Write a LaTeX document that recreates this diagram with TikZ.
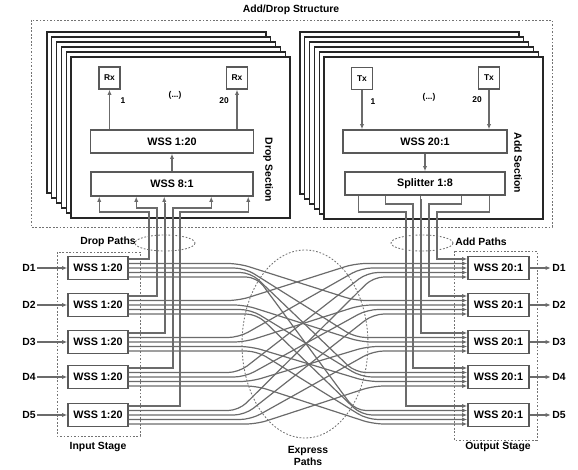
\documentclass[tikz,border=0pt]{standalone}
\usepackage{fontspec}
\setmainfont{Liberation Sans}
\usetikzlibrary{arrows.meta,calc}
\begin{document}
\begin{tikzpicture}[x=0.75pt,y=-0.75pt,
  every node/.style={font=\bfseries\fontsize{7.8}{9}\selectfont, inner sep=1pt},
  wire/.style={draw=black!58, line width=0.9pt},
  arr/.style={-{Latex[length=3.8pt,width=3.2pt]}},
  box/.style={draw=black!65, line width=1.15pt, fill=white, inner sep=0pt, font=\bfseries\fontsize{8.1}{9}\selectfont},
  sz/.style 2 args={minimum width=#1*0.75pt, minimum height=#2*0.75pt},
  card/.style={draw=black!85, line width=0.8pt, fill=white},
  dots/.style={draw=black!55, line width=0.65pt, dash pattern=on 1.3pt off 1.3pt},
  small/.style={font=\bfseries\fontsize{6.3}{7}\selectfont},
]
\useasboundingbox (0,0) rectangle (578,470);

% Add/Drop structure frame
\node (title) at (291,10) {Add/Drop Structure};
\draw[dots] (31,20) rectangle (552,227);

% stacked cards
\foreach \k in {0,...,5}{
  \draw[card] ({47+4.8*\k},{32+5*\k}) rectangle ++(219,161);
  \draw[card] ({300+4.8*\k},{32+5*\k}) rectangle ++(219,162);
}

% Drop section
\node[box,sz={21}{22},small] (rx1) at (109.5,78) {Rx};
\node[box,sz={21}{22},small] (rx20) at (237,78) {Rx};
\node[box,sz={163}{23}] (wd) at (172,141.5) {WSS 1:20};
\node[box,sz={162}{24}] (w81) at (172,184) {WSS 8:1};
\draw[wire,arr] (w81.north) -- (wd.south);
\draw[wire,arr] (wd.north -| rx1) -- (rx1.south);
\draw[wire,arr] (wd.north -| rx20) -- (rx20.south);
\node[small] (n1) at (123,101) {1};
\node[small] (n20) at (224,101) {20};
\node[small] (dd) at (175,95) {(...)};
\node[rotate=-90] (dsec) at (268,170) {Drop Section};

% Add section
\node[box,sz={21}{22},small] (tx1) at (362,78.5) {Tx};
\node[box,sz={21}{22},small] (tx20) at (489,78) {Tx};
\node[box,sz={164}{23}] (wa) at (425,141.5) {WSS 20:1};
\node[box,sz={160}{23}] (sp) at (425,183.5) {Splitter 1:8};
\draw[wire,arr] (tx1.south) -- (tx1 |- wa.north);
\draw[wire,arr] (tx20.south) -- (tx20 |- wa.north);
\draw[wire,arr] (wa.south) -- (sp.north);
\node[small] (a1) at (373,102) {1};
\node[small] (a20) at (477,100) {20};
\node[small] (ad) at (429,97) {(...)};
\node[rotate=-90] (asec) at (518,163) {Add Section};

% stages
\draw[dots] (57,252) rectangle (140,436);
\draw[dots] (454,251) rectangle (537,440);
\node (ist) at (98,447) {Input Stage};
\node (ost) at (498,447) {Output Stage};

\foreach \i/\y in {1/268,2/305,3/342,4/377,5/415}{
  \node[box,sz={60}{23}] (in\i) at (98,\y) {WSS 1:20};
  \node[box,sz={61}{23}] (out\i) at (498.5,\y) {WSS 20:1};
  \node (di\i) at (29,\y) {D\i};
  \node (do\i) at (559,\y) {D\i};
  \draw[wire,arr] (di\i) -- (in\i);
  \draw[wire,arr] (out\i) -- (do\i);
}

% express paths
\foreach \i in {1,...,5}{
 \foreach \j in {1,...,5}{
  \ifnum\i=\j\relax\else
   \pgfmathtruncatemacro\k{\j<\i ? \j-1 : \j-2}
   \pgfmathtruncatemacro\m{\i<\j ? \i-1 : \i-2}
   \pgfmathsetmacro\dyi{-4.5+4.5*\k}
   \pgfmathsetmacro\dyo{-4.5+4.5*\m}
   \pgfmathsetmacro\xa{238+6*\k-128}
   \pgfmathsetmacro\xb{356+6*\m-468}
   \draw[wire,arr,rounded corners=8pt] ($(in\i.east)+(0,\dyi)$) -- ($(in\i.east)+(\xa,\dyi)$) -- ($(out\j.west)+(\xb,\dyo)$) -- ($(out\j.west)+(0,\dyo)$);
  \fi
 }
}

% drop paths
\foreach \i/\vx/\ty/\tx in {1/149/212/9, 2/157/208/46, 3/165/204/74, 4/173/208/121, 5/180/212/158}{
  \draw[wire,arr] ($(in\i.east)+(0,-9)$) -| (\vx,\ty) -| ($(w81.south west)+(\tx,0)$);
}
% add paths
\foreach \j/\sx/\ty/\vx in {5/14/212/406, 4/41/204/413, 3/76/200/421, 2/117/204/429, 1/145/212/437}{
  \draw[wire,arr] ($(sp.south west)+(\sx,0)$) |- (\vx,\ty) |- ($(out\j.west)+(0,-9)$);
}

% ellipses and labels
\draw[dots] (165,243) ellipse [x radius=30, y radius=8];
\node (dp) at (108,242) {Drop Paths};
\draw[dots] (422,243) ellipse [x radius=31, y radius=8];
\node (ap) at (481,242) {Add Paths};
\draw[dots] (305,344) ellipse [x radius=63, y radius=94];
\node[align=center] (ep) at (308,456) {Express\\Paths};
\end{tikzpicture}
\end{document}
